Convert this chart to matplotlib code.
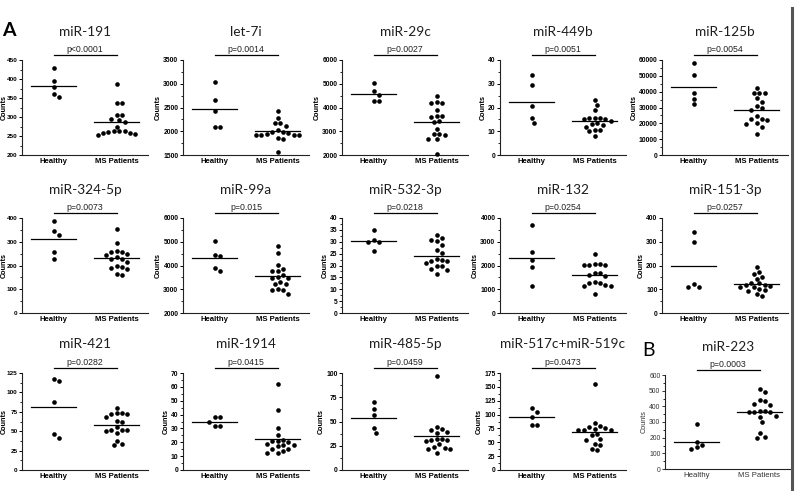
import numpy as np
import matplotlib
matplotlib.use("Agg")
import matplotlib.pyplot as plt
from matplotlib.ticker import MultipleLocator, AutoMinorLocator
from matplotlib.lines import Line2D
from matplotlib.font_manager import FontProperties

# ---------------- data ----------------
categories = ["Healthy", "MS Patients"]

titles = ["miR-191", "let-7i", "miR-29c", "miR-449b", "miR-125b",
          "miR-324-5p", "miR-99a", "miR-532-3p", "miR-132", "miR-151-3p",
          "miR-421", "miR-1914", "miR-485-5p", "miR-517c+miR-519c", "miR-223"]
pvalues = ["p<0.0001", "p=0.0014", "p=0.0027", "p=0.0051", "p=0.0054",
           "p=0.0073", "p=0.015", "p=0.0218", "p=0.0254", "p=0.0257",
           "p=0.0282", "p=0.0415", "p=0.0459", "p=0.0473", "p=0.0003"]

mir191_healthy = [428, 394, 380, 360, 352]
mir191_ms = [388, 338, 337, 306, 305, 295, 293, 287, 275, 263, 262, 262, 260, 258, 257, 255, 252]
let7i_healthy = [3045, 2660, 2425, 2096, 2096]
let7i_ms = [2430, 2280, 2180, 2170, 2110, 2030, 1990, 1980, 1970, 1940, 1930, 1930, 1920, 1920, 1850, 1830, 1570]
mir29c_healthy = [5040, 4710, 4540, 4260, 4260]
mir29c_ms = [4470, 4220, 4210, 4200, 3910, 3660, 3640, 3620, 3440, 3370, 3090, 2880, 2870, 2830, 2680, 2660, 2050]
mir449b_healthy = [33.5, 29.5, 20.5, 15.5, 13.4]
mir449b_ms = [23, 21, 19, 15.5, 15.5, 15.5, 15, 15, 14.5, 13.5, 13, 12.5, 12, 10.5, 10.5, 10, 8]
mir125b_healthy = [57900, 50250, 39200, 35600, 32200]
mir125b_ms = [42400, 39200, 39200, 39000, 36000, 33300, 31200, 29700, 28500, 24400, 22700, 22500, 22200, 20000, 19700, 17500, 13400]

mir324_healthy = [389, 344, 330, 257, 229]
mir324_ms = [354, 295, 262, 258, 255, 250, 243, 235, 228, 226, 215, 200, 195, 190, 185, 165, 160]
mir99a_healthy = [5046, 4428, 4414, 3895, 3754]
mir99a_ms = [4830, 4530, 4010, 3850, 3760, 3750, 3600, 3500, 3480, 3460, 3300, 3240, 3230, 3010, 2980, 2960, 2800]
mir532_healthy = [34.8, 30.9, 29.9, 29.9, 26.0]
mir532_ms = [32.7, 31.6, 30.9, 30.2, 28.8, 26.7, 25.3, 22.7, 22.2, 22.0, 21.8, 21.0, 20.0, 19.9, 18.5, 18.0, 16.3]
mir132_healthy = [3719, 2554, 2246, 1937, 1151]
mir132_ms = [2500, 2070, 2060, 2040, 2020, 2010, 1700, 1690, 1600, 1560, 1300, 1250, 1250, 1200, 1150, 1130, 780]
mir151_healthy = [340, 297, 123, 110, 109]
mir151_ms = [192, 172, 165, 150, 145, 128, 125, 120, 118, 115, 110, 108, 100, 95, 92, 78, 70]

mir421_healthy = [117, 115, 88, 46, 41]
mir421_ms = [80, 73, 73, 72, 72, 68, 63, 62, 56, 52, 52, 52, 50, 48, 38, 34, 32]
mir1914_healthy = [38, 38, 35, 32, 32]
mir1914_ms = [62, 43, 30, 25, 22, 21, 21, 20, 19, 18, 18, 17, 15, 15, 14, 12, 12]
mir485_healthy = [69.7, 62.8, 56.9, 43.1, 37.9]
mir485_ms = [97, 44, 42, 41, 39, 38, 32, 32, 31, 31, 30, 27, 24, 23, 22, 22, 18]
mir517_healthy = [111.6, 104.4, 95.3, 81.5, 81.5]
mir517_ms = [155, 84, 80, 78, 75, 74, 73, 73, 73, 65, 63, 56, 55, 47, 45, 38, 36]
mir223_healthy = [285, 174, 153, 138, 125]
mir223_ms = [508, 490, 440, 434, 415, 410, 370, 368, 366, 364, 362, 340, 330, 300, 232, 205, 200]

healthy_groups = [mir191_healthy, let7i_healthy, mir29c_healthy, mir449b_healthy, mir125b_healthy,
                  mir324_healthy, mir99a_healthy, mir532_healthy, mir132_healthy, mir151_healthy,
                  mir421_healthy, mir1914_healthy, mir485_healthy, mir517_healthy, mir223_healthy]
ms_groups = [mir191_ms, let7i_ms, mir29c_ms, mir449b_ms, mir125b_ms,
             mir324_ms, mir99a_ms, mir532_ms, mir132_ms, mir151_ms,
             mir421_ms, mir1914_ms, mir485_ms, mir517_ms, mir223_ms]

# y-axis ranges and tick steps
ylims = [(200, 450), (1500, 3500), (2000, 6000), (0, 40), (0, 60000),
         (0, 400), (2000, 6000), (0, 40), (0, 4000), (0, 400),
         (0, 125), (0, 70), (0, 100), (0, 175), (0, 600)]
ysteps = [50, 500, 1000, 10, 10000,
          100, 1000, 5, 1000, 100,
          25, 10, 25, 25, 100]

# ---------------- layout ----------------
W, H = 800, 491
fig = plt.figure(figsize=(W / 100, H / 100), dpi=100)
fig.patch.set_facecolor("white")

col_left = [22, 183, 342, 500, 662]
row_tb = [(60, 155), (218, 313), (373, 470)]
ax_w = 126


def px_rect(left, top, width, bottom):
    return [left / W, 1 - bottom / H, width / W, (bottom - top) / H]


def swarm(ax, values, x0, d=5.4):
    vals = np.asarray(values, dtype=float)
    t = ax.transData
    ypx = t.transform(np.column_stack([np.full(len(vals), x0), vals]))[:, 1]
    sx = t.transform((1, 0))[0] - t.transform((0, 0))[0]
    step = d / 2.0
    placed = []
    offs = np.zeros(len(vals))
    order = np.argsort(-vals)
    cands = [0]
    for k in range(1, 30):
        cands += [k * step, -k * step]
    for i in order:
        for c in cands:
            ok = True
            for (px, py) in placed:
                if (px - c) ** 2 + (py - ypx[i]) ** 2 < (d * 0.98) ** 2:
                    ok = False
                    break
            if ok:
                offs[i] = c
                placed.append((c, ypx[i]))
                break
    return x0 + offs / sx


title_font = dict(family="Lato", size=9.8, color="#1e1e1e")

for idx in range(15):
    if idx < 14:
        r, c = divmod(idx, 5)
        top, bottom = row_tb[r]
        left = col_left[c]
        bold = "bold"
        tc = "black"
    else:
        c = 4
        left, top, bottom = 665, 375, 469
        bold = "normal"
        tc = "#333333"
    ax = fig.add_axes(px_rect(left, top, ax_w, bottom))
    ax.set_xlim(-0.5, 1.5)
    ax.set_ylim(*ylims[idx])
    ax.yaxis.set_major_locator(MultipleLocator(ysteps[idx]))
    ax.yaxis.set_minor_locator(AutoMinorLocator(2))
    for s in ["top", "right"]:
        ax.spines[s].set_visible(False)
    for s in ["left", "bottom"]:
        ax.spines[s].set_linewidth(0.8)
        ax.spines[s].set_color("#222222")
    ax.tick_params(axis="y", which="major", length=2.5, width=0.7, pad=0.8, colors=tc)
    ax.tick_params(axis="y", which="minor", length=1.5, width=0.6)
    ax.tick_params(axis="x", length=0, pad=2)
    ax.set_xticks([0, 1])
    ax.set_xticklabels(categories, family="Liberation Sans", size=5.6, weight=bold, color=tc)
    tsize = 4.6 if c == 0 else 4.9
    for lab in ax.get_yticklabels():
        lab.set_fontproperties(FontProperties(family="Liberation Sans", size=tsize, weight=bold))
    ax.set_ylabel("Counts", family="Liberation Sans", size=5.2, weight=bold,
                  color=tc, labelpad=0.8)
    if c == 0:
        ax.yaxis.set_label_coords(-14.5 / ax_w, 0.5)
    ax.patch.set_alpha(0)

    for gx, grp in enumerate([healthy_groups[idx], ms_groups[idx]]):
        xs = swarm(ax, grp, gx)
        ax.scatter(xs, grp, s=11, c="black", marker="o", linewidths=0, zorder=3, clip_on=False)
        m = np.mean(grp)
        ax.plot([gx - 0.35, gx + 0.35], [m, m], color="black", lw=0.9, zorder=2)

    # significance bar
    ax.add_line(Line2D([0, 1], [1.05, 1.05], transform=ax.get_xaxis_transform(),
                       color="black", lw=0.9, clip_on=False))
    ax.text(0.5, 1.065, pvalues[idx], transform=ax.get_xaxis_transform(),
            ha="center", va="bottom", family="Liberation Sans", size=6.3, color="#222222")
    ax.text(0.5, 1.30, titles[idx], transform=ax.get_xaxis_transform(),
            ha="center", va="center", **title_font)

fig.text(9 / W, 1 - 31 / H, "A", ha="center", va="center", family="Lato",
         size=14, weight="bold", color="black")
fig.text(649 / W, 1 - 350 / H, "B", ha="center", va="center", family="Lato",
         size=14, weight="normal", color="black")
fig.add_artist(Line2D([792 / W, 792 / W], [0, 1 - 8 / H], transform=fig.transFigure,
                      color="#555555", lw=2.2))

fig.savefig("out.png", dpi=100, facecolor="white")
